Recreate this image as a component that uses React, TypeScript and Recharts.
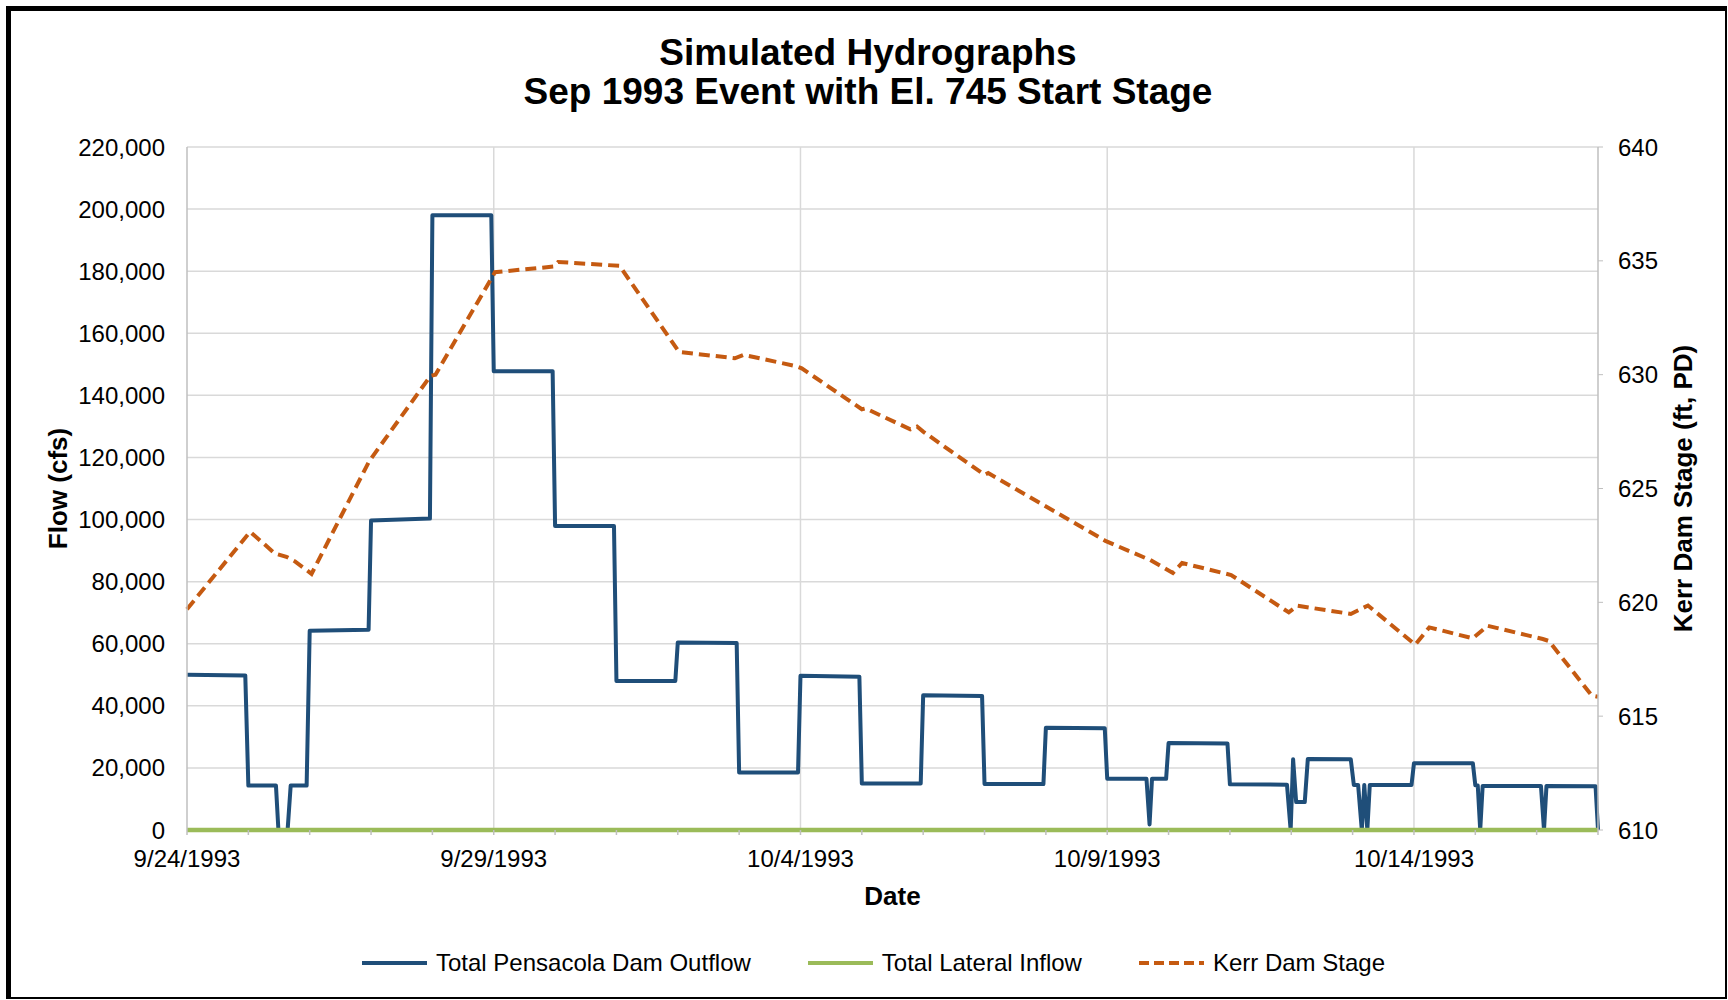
import React from 'react';
import { ComposedChart, Line, XAxis, YAxis, CartesianGrid, ReferenceLine, Legend } from 'recharts';

const FONT = '"Liberation Sans", Arial, Helvetica, sans-serif';

// X axis: days since 9/24/1993
const dayTicks = [0, 1, 2, 3, 4, 5, 6, 7, 8, 9, 10, 11, 12, 13, 14, 15, 16, 17, 18, 19, 20, 21, 22, 23];
const dateTickDays = [0, 5, 10, 15, 20];
const dateTickLabels = ['9/24/1993', '9/29/1993', '10/4/1993', '10/9/1993', '10/14/1993'];
const gridDays = [5, 10, 15, 20];
const flowTicks = [0, 20000, 40000, 60000, 80000, 100000, 120000, 140000, 160000, 180000, 200000, 220000];
const stageTicks = [610, 615, 620, 625, 630, 635, 640];

const outflowDays = [0, 0.95, 1.0, 1.45, 1.49, 1.64, 1.69, 1.95, 2.0, 2.96, 3.0, 3.96, 4.0, 4.96, 5.0, 5.96, 6.0, 6.96,
  7.0, 7.96, 8.0, 8.96, 9.0, 9.96, 10.0, 10.96, 11.0, 11.96, 12.0, 12.96, 13.0, 13.96, 14.0, 14.96, 15.0, 15.64, 15.69,
  15.73, 15.96, 16.0, 16.96, 17.0, 17.93, 17.99, 18.03, 18.08, 18.22, 18.27, 18.97, 19.02, 19.09, 19.15, 19.19, 19.24,
  19.28, 19.96, 20.0, 20.96, 21.0, 21.04, 21.08, 21.12, 22.07, 22.12, 22.16, 22.96, 23.0];
const outflowCfs = [50000, 49800, 14300, 14300, 0, 0, 14300, 14300, 64200, 64500, 99700, 100300, 198000, 198000, 147800,
  147800, 97900, 97900, 48000, 48000, 60400, 60200, 18500, 18500, 49700, 49400, 15000, 15000, 43400, 43200, 14800, 14800,
  32900, 32800, 16500, 16500, 1800, 16500, 16500, 28000, 27900, 14700, 14600, 0, 22800, 9000, 9000, 22900, 22800, 14500,
  14500, 0, 14500, 0, 14500, 14500, 21500, 21500, 14400, 14300, 0, 14200, 14200, 0, 14200, 14100, 0];

const inflowDays = [0, 23];
const inflowCfs = [0, 0];

const stageDays = [0, 1.03, 1.43, 1.62, 1.76, 2.03, 2.97, 3.97, 4.05, 5.02, 5.98, 6.05, 7.05, 8.02, 8.93, 9.07, 9.92,
  10.02, 11.0, 11.06, 11.79, 11.9, 12.0, 13.0, 13.06, 14.97, 15.7, 16.07, 16.22, 17.02, 17.96, 18.1, 18.97, 19.25,
  20.02, 20.25, 20.96, 21.2, 22.1, 22.2, 22.9, 23.0];
const stageFt = [619.7, 623.1, 622.15, 622.0, 621.8, 621.25, 626.2, 629.95, 630.0, 634.5, 634.75, 634.95, 634.78, 631.0,
  630.72, 630.87, 630.38, 630.28, 628.48, 628.52, 627.6, 627.72, 627.5, 625.6, 625.68, 622.7, 621.86, 621.29, 621.73,
  621.2, 619.56, 619.85, 619.49, 619.86, 618.14, 618.9, 618.42, 618.97, 618.39, 618.3, 615.9, 615.85];

const seriesMeta = [
  { name: 'Total Pensacola Dam Outflow', color: '#1F4E79', dash: undefined as string | undefined },
  { name: 'Total Lateral Inflow', color: '#9BBB59', dash: undefined as string | undefined },
  { name: 'Kerr Dam Stage', color: '#C55A11', dash: '10 5' },
];

const outflowData = outflowDays.map((d, i) => ({ day: d, value: outflowCfs[i] }));
const inflowData = inflowDays.map((d, i) => ({ day: d, value: inflowCfs[i] }));
const stageData = stageDays.map((d, i) => ({ day: d, value: stageFt[i] }));

const fmtDate = (d: number) => {
  const idx = dateTickDays.indexOf(d);
  return idx >= 0 ? dateTickLabels[idx] : '';
};

const LegendContent = () => (
  <div style={{ display: 'flex', alignItems: 'center', height: 28, paddingLeft: 361, fontFamily: FONT, fontSize: 24, color: '#000', whiteSpace: 'nowrap' }}>
    {seriesMeta.map((s) => (
      <div key={s.name} style={{ display: 'flex', alignItems: 'center', marginRight: 56 }}>
        <svg width={67} height={10} style={{ marginRight: 8 }}>
          <line x1={1} y1={5} x2={66} y2={5} stroke={s.color} strokeWidth={4} strokeDasharray={s.dash} />
        </svg>
        <span>{s.name}</span>
      </div>
    ))}
  </div>
);

export default function App() {
  return (
    <div style={{ position: 'absolute', left: 0, top: 0, width: 1728, height: 1000, background: '#fff', fontFamily: FONT }}>
      <div style={{ position: 'absolute', left: 6, top: 6, width: 1721, height: 993, boxSizing: 'border-box', borderLeft: '5px solid #000', borderTop: '5px solid #000', borderRight: '2px solid #000', borderBottom: '2px solid #000' }} />
      <div style={{ position: 'absolute', left: 0, top: 0 }}>
        <ComposedChart width={1728} height={1000} margin={{ top: 147, right: 50, bottom: 110, left: 67 }} style={{ fontFamily: FONT }}>
          <CartesianGrid yAxisId="left" vertical={false} stroke="#D9D9D9" strokeWidth={1.5} />
          <XAxis dataKey="day" type="number" domain={[0, 23]} ticks={dayTicks} interval={0} tickFormatter={fmtDate}
            height={60} tickSize={5} tickMargin={15} stroke="#BFBFBF" axisLine={false}
            tickLine={{ stroke: '#BFBFBF', strokeWidth: 1.5 }} tick={{ fill: '#000', fontSize: 24 }} />
          <YAxis yAxisId="left" domain={[0, 220000]} ticks={flowTicks} width={120} tickLine={false} tickSize={6} tickMargin={16}
            axisLine={{ stroke: '#BFBFBF', strokeWidth: 1.5 }} tick={{ fill: '#000', fontSize: 24 }}
            tickFormatter={(v: number) => v.toLocaleString('en-US')} />
          <YAxis yAxisId="right" orientation="right" domain={[610, 640]} ticks={stageTicks} width={80} tickSize={5} tickMargin={15}
            stroke="#BFBFBF" axisLine={{ stroke: '#BFBFBF', strokeWidth: 1.5 }} tick={{ fill: '#000', fontSize: 24 }} />
          {gridDays.map((d) => (
            <ReferenceLine key={d} yAxisId="left" x={d} stroke="#D9D9D9" strokeWidth={1.5} />
          ))}
          <Line yAxisId="left" data={outflowData} dataKey="value" name={seriesMeta[0].name} type="linear" stroke={seriesMeta[0].color}
            strokeWidth={4} dot={false} activeDot={false} strokeLinejoin="round" isAnimationActive={false} />
          <Line yAxisId="left" data={inflowData} dataKey="value" name={seriesMeta[1].name} type="linear" stroke={seriesMeta[1].color}
            strokeWidth={4.5} dot={false} activeDot={false} isAnimationActive={false} />
          <Line yAxisId="right" data={stageData} dataKey="value" name={seriesMeta[2].name} type="linear" stroke={seriesMeta[2].color}
            strokeWidth={4} strokeDasharray="11 6" dot={false} activeDot={false} isAnimationActive={false} />
          <Legend layout="horizontal" verticalAlign="middle" align="center" content={<LegendContent />}
            wrapperStyle={{ top: 949, left: 0, width: 1728, height: 28 }} />
        </ComposedChart>
      </div>
      <svg width={1728} height={1000} style={{ position: 'absolute', left: 0, top: 0, pointerEvents: 'none' }}>
        <text x={868} y={65} textAnchor="middle" fontFamily={FONT} fontWeight="bold" fontSize={37} fill="#000">Simulated Hydrographs</text>
        <text x={868} y={104} textAnchor="middle" fontFamily={FONT} fontWeight="bold" fontSize={37} fill="#000">Sep 1993 Event with El. 745 Start Stage</text>
        <text transform="translate(66.5,488.5) rotate(-90)" textAnchor="middle" fontFamily={FONT} fontWeight="bold" fontSize={26} fill="#000">Flow (cfs)</text>
        <text transform="translate(1692,488.5) rotate(-90)" textAnchor="middle" fontFamily={FONT} fontWeight="bold" fontSize={26} fill="#000">Kerr Dam Stage (ft, PD)</text>
        <text x={892.5} y={905} textAnchor="middle" fontFamily={FONT} fontWeight="bold" fontSize={26} fill="#000">Date</text>
      </svg>
    </div>
  );
}
